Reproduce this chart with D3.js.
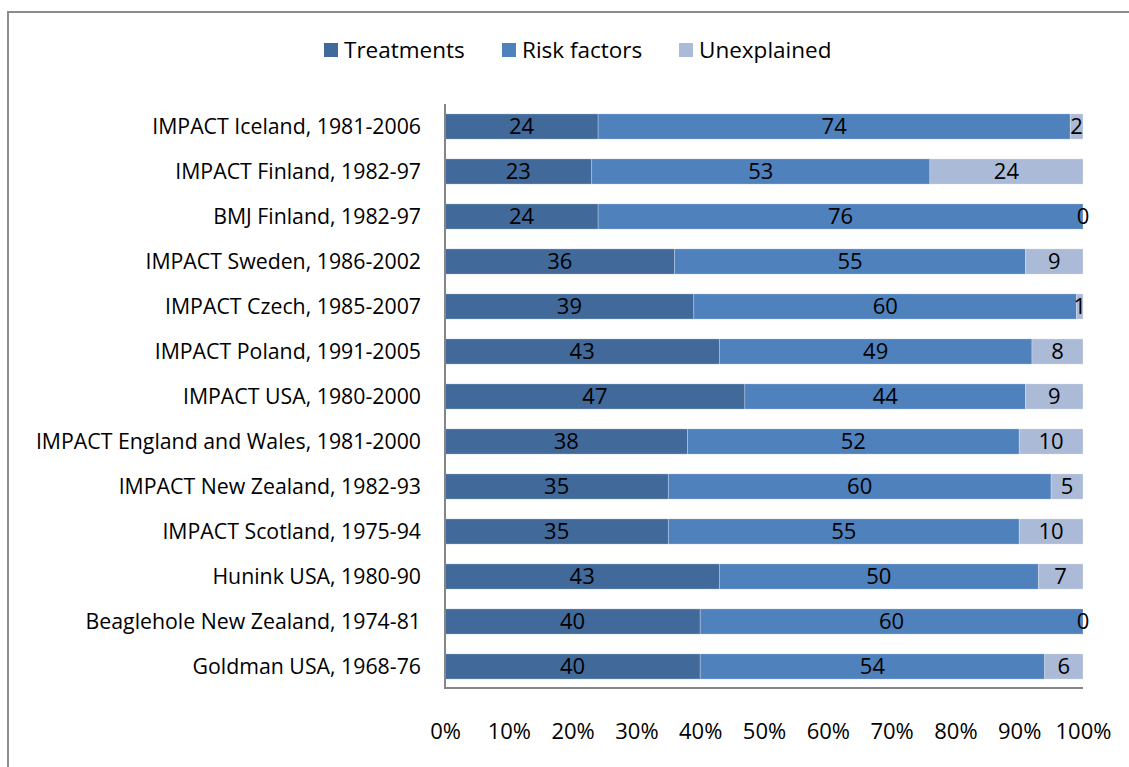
<!DOCTYPE html>
<html><head><meta charset="utf-8">
<script src="https://cdn.jsdelivr.net/npm/d3@7"></script>
<style>
html,body{margin:0;padding:0;background:#fff;}
svg text{font-family:"Open Sans","Noto Sans",sans-serif;fill:#000;}
</style></head>
<body>
<svg id="chart" width="1129" height="767"></svg>
<script>
const categories = [
  "IMPACT Iceland, 1981-2006",
  "IMPACT Finland, 1982-97",
  "BMJ Finland, 1982-97",
  "IMPACT Sweden, 1986-2002",
  "IMPACT Czech, 1985-2007",
  "IMPACT Poland, 1991-2005",
  "IMPACT USA, 1980-2000",
  "IMPACT England and Wales, 1981-2000",
  "IMPACT New Zealand, 1982-93",
  "IMPACT Scotland, 1975-94",
  "Hunink USA, 1980-90",
  "Beaglehole New Zealand, 1974-81",
  "Goldman USA, 1968-76"
];
const seriesNames = ["Treatments", "Risk factors", "Unexplained"];
const treatments  = [24, 23, 24, 36, 39, 43, 47, 38, 35, 35, 43, 40, 40];
const riskFactors = [74, 53, 76, 55, 60, 49, 44, 52, 60, 55, 50, 60, 54];
const unexplained = [2, 24, 0, 9, 1, 8, 9, 10, 5, 10, 7, 0, 6];
const tickValues = [0, 0.1, 0.2, 0.3, 0.4, 0.5, 0.6, 0.7, 0.8, 0.9, 1.0];
const colors = ["#416A9B", "#4F81BD", "#AABAD7"];

const svg = d3.select("#chart");
const FS_CAT = 21.3, FS_VAL = 22, FS_TICK = 22, FS_LEG = 22.5;

// outer frame
svg.append("path").attr("d", "M8,767 V12 H1129")
  .attr("fill", "none").attr("stroke", "#8c8c8c").attr("stroke-width", 2);

const rows = categories.map((c, i) => ({cat: c, vals: [treatments[i], riskFactors[i], unexplained[i]]}));
const x = d3.scaleLinear().domain([0, 1]).range([445, 1083]);
const y = d3.scaleBand().domain(categories).range([104, 689]).paddingInner(0.44).paddingOuter(0.22);

const stack = d3.stack().keys([0, 1, 2]).value((d, k) => d.vals[k] / d3.sum(d.vals));
const stacked = stack(rows);

const g = svg.append("g");
stacked.forEach((layer, k) => {
  g.selectAll(null).data(layer).enter().append("rect")
    .attr("x", d => x(d[0]))
    .attr("y", d => y(d.data.cat))
    .attr("width", d => Math.max(0, x(d[1]) - x(d[0])))
    .attr("height", y.bandwidth())
    .attr("fill", colors[k])
    .attr("stroke", "#ffffff").attr("stroke-opacity", 0.35).attr("stroke-width", 0.75);
});
// value labels
stacked.forEach((layer, k) => {
  g.selectAll(null).data(layer).enter().append("text")
    .attr("x", d => (x(d[0]) + x(d[1])) / 2)
    .attr("y", d => y(d.data.cat) + y.bandwidth() / 2)
    .attr("dy", "0.36em")
    .attr("text-anchor", "middle")
    .style("font-size", FS_VAL + "px")
    .text(d => d.data.vals[k]);
});

// y axis
const yAxis = d3.axisLeft(y).tickSize(0).tickPadding(24);
const yg = svg.append("g").attr("transform", "translate(445,0)").call(yAxis);
yg.select(".domain").remove();
yg.selectAll("text").style("font-size", FS_CAT + "px").attr("dy", "0.36em");
svg.append("line").attr("x1", 445).attr("x2", 445).attr("y1", 104).attr("y2", 689)
  .attr("stroke", "#868686").attr("stroke-width", 2);

// x axis
const xAxis = d3.axisBottom(x).tickValues(tickValues).tickFormat(d3.format(".0%")).tickSize(0).tickPadding(35);
const xg = svg.append("g").attr("transform", "translate(0,688)").call(xAxis);
xg.select(".domain").remove();
xg.selectAll("text").style("font-size", FS_TICK + "px");
svg.append("line").attr("x1", 444).attr("x2", 1083).attr("y1", 688).attr("y2", 688)
  .attr("stroke", "#868686").attr("stroke-width", 2);

// legend
const legendX = [324, 502, 679];
const lg = svg.append("g");
seriesNames.forEach((n, i) => {
  lg.append("rect").attr("x", legendX[i]).attr("y", 43).attr("width", 14).attr("height", 14).attr("fill", colors[i]);
  lg.append("text").attr("x", legendX[i] + 20).attr("y", 50).attr("dy", "0.36em")
    .style("font-size", FS_LEG + "px").text(n);
});
</script>
</body></html>
